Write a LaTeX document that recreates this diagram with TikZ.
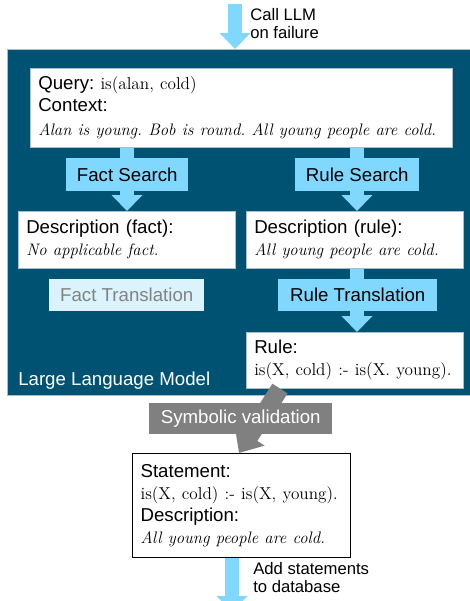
\documentclass[tikz,border=0pt]{standalone}
\usepackage{fontspec}
\setsansfont{Liberation Sans}
\usetikzlibrary{arrows.meta,calc,positioning}
\newdimen\pxu
\pxu=0.75pt
\definecolor{llmblue}{RGB}{0,82,115}
\definecolor{arrowblue}{RGB}{128,216,255}
\definecolor{fadeblue}{RGB}{218,243,253}
\definecolor{fadetext}{RGB}{130,130,130}
\definecolor{symgray}{RGB}{128,128,128}
\definecolor{boxedge}{RGB}{170,190,200}
\newcommand\serif[1]{{\rmfamily\fontsize{12.9}{16.5}\selectfont #1}}
\newcommand\serifit[1]{{\rmfamily\itshape\fontsize{12.5}{16.5}\selectfont #1}}
\frenchspacing

\begin{document}
\begin{tikzpicture}[x=0.75pt, y=-0.75pt,
  every node/.style={font=\sffamily\fontsize{14}{16.5}\selectfont},
  llmbox/.style={fill=llmblue, draw=boxedge, line width=0.4pt, anchor=north west, inner sep=0pt},
  textbox/.style={fill=white, draw=boxedge, line width=0.4pt, anchor=north west, align=left, inner xsep=8\pxu, inner ysep=0pt},
  stepbox/.style={fill=arrowblue, anchor=north west, inner sep=0pt},
  note/.style={font=\sffamily\fontsize{12.5}{13.5}\selectfont, align=left, anchor=north west, inner sep=0pt},
  bluearrow/.style={draw=arrowblue, line width=10.5pt, -{Triangle[width=22.5pt,length=12pt]}},
  grayarrow/.style={draw=symgray, line width=13.5pt, -{Triangle[width=25.5pt,length=15pt]}}]
\useasboundingbox (0,0) rectangle (470,601);

% outer model box
\node[llmbox, minimum width=465\pxu, minimum height=346\pxu] (llm) at (7,49) {};
\node[anchor=base west, text=white, inner sep=0pt] (llmname) at (18,385) {Large Language Model};

% input boxes
\node[textbox, text width=406\pxu, minimum height=79\pxu] (query) at (30,68)
  {Query: \serif{is(alan, cold)}\\Context:\\[1.5pt]\serifit{Alan is young. Bob is round. All young people are cold.}};
\node[textbox, text width=201\pxu, minimum height=57\pxu] (descf) at (18,211)
  {Description (fact):\\\serifit{No applicable fact.}};
\node[textbox, text width=201\pxu, minimum height=57\pxu] (descr) at (246,211)
  {Description (rule):\\\serifit{All young people are cold.}};
\node[textbox, text width=201\pxu, minimum height=56\pxu] (rule) at (246,332)
  {Rule:\\\serif{is(X, cold) :- is(X. young).}};
\node[textbox, draw=black, line width=0.9pt, text width=202\pxu, minimum height=104\pxu] (stmt) at (132,453)
  {Statement:\\\serif{is(X, cold) :- is(X, young).}\\Description:\\\serifit{All young people are cold.}};

% arrows behind the steps
\coordinate (callin) at (235,4);
\coordinate (dbout) at (232,612);
\draw[bluearrow] (callin) -- (callin |- llm.north);
\draw[bluearrow] ($(stmt.south west)+(100,0)$) -- (dbout);
\draw[bluearrow] ($(query.south west)+(97,0)$) -- ($(descf.north west)+(109,0)$);
\draw[bluearrow] ($(query.south west)+(327,0)$) -- ($(descr.north west)+(111,0)$);
\draw[bluearrow] ($(descr.south west)+(111,0)$) -- ($(rule.north west)+(111,0)$);
\draw[grayarrow] ($(rule.south west)+(34,0)$) -- ($(stmt.north west)+(107,0)$);

% step labels
\node[stepbox, minimum width=122\pxu, minimum height=33\pxu] (fsearch) at (66,158) {Fact Search};
\node[stepbox, minimum width=124\pxu, minimum height=33\pxu] (rsearch) at (295,158) {Rule Search};
\node[stepbox, fill=fadeblue, text=fadetext, minimum width=155\pxu, minimum height=32\pxu] (ftrans) at (49,279) {Fact Translation};
\node[stepbox, minimum width=159\pxu, minimum height=32\pxu] (rtrans) at (278,279) {Rule Translation};
\node[stepbox, fill=symgray, text=white, minimum width=183\pxu, minimum height=31\pxu] (symval) at (149,403) {Symbolic validation};

% side notes
\node[note] (callnote) at (250,8) {Call LLM\\on failure};
\node[note] (dbnote) at (253,562) {Add statements\\to database};
\end{tikzpicture}
\end{document}
